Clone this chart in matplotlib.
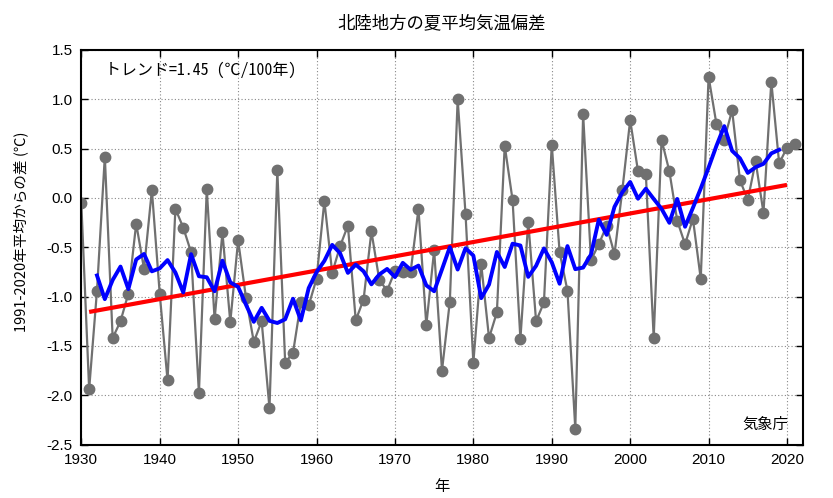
import matplotlib.pyplot as plt
import numpy as np
from matplotlib import font_manager

###########################################
# Data: 北陸地方の夏平均気温偏差 (1991-2020 baseline)
###########################################

years = np.arange(1930, 2022)

anomaly = [
    -0.05, -1.94, -0.94, 0.42, -1.42, -1.25, -0.97, -0.26, -0.72, 0.08,   # 1930s
    -0.97, -1.85, -0.11, -0.30, -0.55, -1.98, 0.09, -1.23, -0.35, -1.26,  # 1940s
    -0.43, -1.01, -1.46, -1.25, -2.13, 0.28, -1.67, -1.57, -1.06, -1.09,  # 1950s
    -0.82, -0.03, -0.76, -0.49, -0.28, -1.24, -1.03, -0.34, -0.83, -0.94, # 1960s
    -0.74, -0.75, -0.75, -0.11, -1.29, -0.53, -1.75, -1.05, 1.00, -0.16,  # 1970s
    -1.67, -0.67, -1.42, -1.16, 0.53, -0.02, -1.43, -0.24, -1.25, -1.06,  # 1980s
    0.54, -0.55, -0.94, -2.34, 0.85, -0.63, -0.47, -0.28, -0.57, 0.08,    # 1990s
    0.79, 0.27, 0.24, -1.42, 0.59, 0.27, -0.23, -0.47, -0.21, -0.82,      # 2000s
    1.23, 0.75, 0.59, 0.89, 0.18, -0.02, 0.37, -0.15, 1.18, 0.35,         # 2010s
    0.51, 0.55,                                                           # 2020s
]
anomaly = np.array(anomaly)

# 5-year running mean (centred)
window = 5
run_mean = np.convolve(anomaly, np.ones(window) / window, mode='valid')
run_years = years[window // 2: len(years) - window // 2]

# Linear trend
trend_years = np.array([1931, 2020])
coef = np.polyfit(years, anomaly, 1)
trend_vals = np.polyval(coef, trend_years)

###########################################
# Fonts
###########################################

available = {f.name for f in font_manager.fontManager.ttflist}
tick_font = 'Liberation Sans Narrow' if 'Liberation Sans Narrow' in available else 'Liberation Sans'
jp_font = ['Noto Sans CJK JP', 'DejaVu Sans']

###########################################
# Plot
###########################################

fig = plt.figure(figsize=(8.33, 4.98), dpi=100)
ax = fig.add_axes([0.0976, 0.1074, 0.866, 0.7922])

ax.plot(years, anomaly, '-', color='#707070', linewidth=1.6,
        marker='o', markersize=7.5, markerfacecolor='#707070',
        markeredgecolor='#707070', zorder=2)
ax.plot(trend_years, trend_vals, '-', color='#ff0000', linewidth=3, zorder=3,
        solid_capstyle='butt')
ax.plot(run_years, run_mean, '-', color='#0000ff', linewidth=2.8, zorder=4)

ax.set_xlim(1930, 2022)
ax.set_ylim(-2.5, 1.5)
ax.set_xticks(np.arange(1930, 2021, 10))
ax.set_yticks(np.arange(-2.5, 1.51, 0.5))
ax.set_yticklabels([f'{v:.1f}' for v in np.arange(-2.5, 1.51, 0.5)])

ax.grid(True, color='#888888', linestyle=(0, (1, 2)), linewidth=0.8)
ax.tick_params(direction='in', top=True, right=True, length=5, width=1,
               labelsize=11, pad=6)
for lab in ax.get_xticklabels() + ax.get_yticklabels():
    lab.set_family(tick_font)
for sp in ax.spines.values():
    sp.set_linewidth(1.5)

ax.set_title('北陸地方の夏平均気温偏差', family=jp_font, fontsize=12.5, pad=16)
ax.set_xlabel('年', family=jp_font, fontsize=11, labelpad=8)
ax.set_ylabel('1991-2020年平均からの差 (℃)', family=jp_font, fontsize=10.5)
ax.yaxis.set_label_coords(-0.074, 0.54)

ax.text(0.033, 0.949, 'トレンド=1.45 (℃/100年)', transform=ax.transAxes,
        family=['Noto Sans Mono CJK JP', 'Noto Sans CJK JP', 'DejaVu Sans'],
        fontsize=11.5, ha='left', va='center')
ax.text(0.98, 0.05, '気象庁', transform=ax.transAxes, family=jp_font,
        fontsize=11, ha='right', va='center')

plt.savefig('out.png', dpi=100, facecolor='white')
plt.close()
